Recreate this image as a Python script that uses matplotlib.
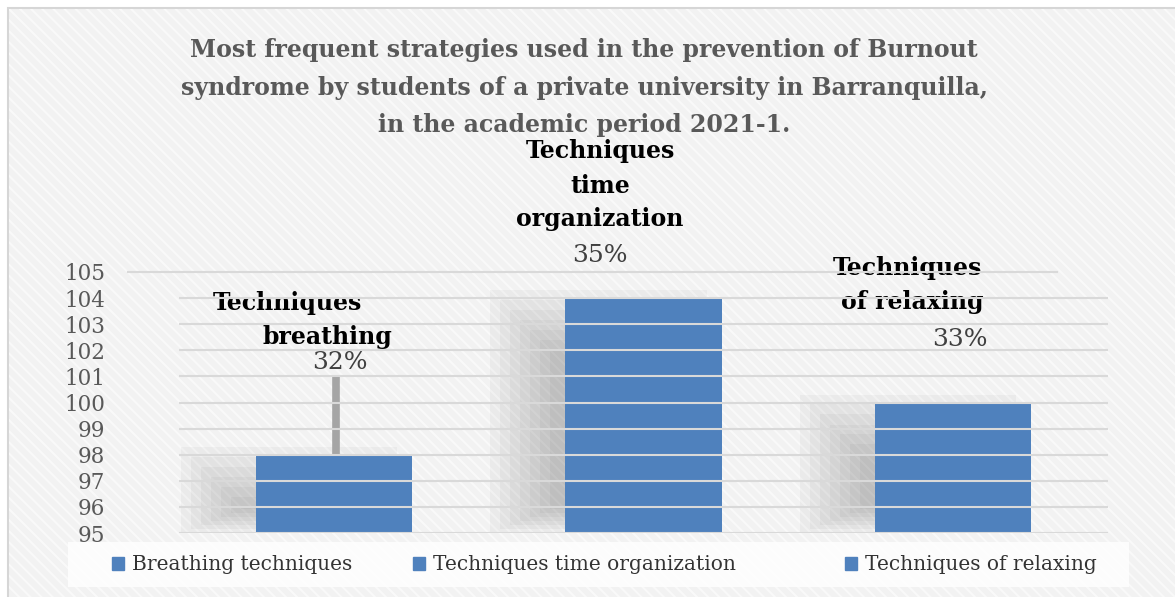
import matplotlib.pyplot as plt
from matplotlib.patches import Rectangle, Patch

categories = ["Breathing techniques", "Techniques time organization", "Techniques of relaxing"]
values = [98, 104, 100]
label_lines = [["Techniques", "breathing"],
               ["Techniques", "time", "organization"],
               ["Techniques", "of relaxing"]]
percents = ["32%", "35%", "33%"]
yticks = list(range(95, 106))
title_lines = ["Most frequent strategies used in the prevention of Burnout",
               "syndrome by students of a private university in Barranquilla,",
               "in the academic period 2021-1."]

plt.rcParams['font.family'] = ['DejaVu Serif']
plt.rcParams['hatch.linewidth'] = 1.5

W, H = 1175, 597
fig = plt.figure(figsize=(W / 100, H / 100), dpi=100)
fig.patch.set_facecolor('white')

# textured chart background
fig.patches.append(Rectangle((8 / W, -0.01), 1.01, 1 - 8 / H + 0.01, transform=fig.transFigure,
                             facecolor='#f2f2f2', edgecolor='#d6d6d6', lw=1.5, zorder=-10))
fig.patches.append(Rectangle((9 / W, -0.01), 1.01, 1 - 9 / H + 0.01, transform=fig.transFigure,
                             facecolor='none', edgecolor='#f9f9f9', hatch='\\\\\\', lw=0, zorder=-9))
# legend background
fig.patches.append(Rectangle((68 / W, 1 - 587 / H), (1129 - 68) / W, 45 / H, transform=fig.transFigure,
                             facecolor='white', alpha=0.8, lw=0, zorder=-8))

ax = fig.add_axes([179 / W, 1 - 533 / H, 929 / W, 261 / H])
ax.set_facecolor('none')
ax.set_xlim(-0.5, 2.5)
ax.set_ylim(95, 105)
sx = 3 / 929   # data units per pixel
sy = 10 / 261

x = list(range(len(values)))
bw = 0.504

# soft shadows behind bars (shifted left and down, blurred)
for xi, v in zip(x, values):
    l = xi - bw / 2 - 45 * sx
    r = xi + bw / 2 - 45 * sx
    t = v - 22 * sy
    for k in range(7):
        e = 30 - k * 10
        ax.add_patch(Rectangle((l - e * sx, 95 + (30 - e) * 0.4 * sy), (r - l) + 2 * e * sx,
                               t + e * sy - 95 - (30 - e) * 0.4 * sy,
                               facecolor='black', alpha=0.03, lw=0, zorder=1))

ax.bar(x, values, width=bw, color='#4f81bd', zorder=3)

# leader line of the first label
ax.vlines(x[0] + 2.5 * sx, values[0], 101, colors='#a5a5a5', lw=5.5, zorder=3.5)

# gridlines over the bars
for t in yticks:
    if t == yticks[-1]:
        ax.axhline(t, -51 / 929, 1 - 51 / 929, color='#d9d9d9', lw=1.5, zorder=5, clip_on=False)
    else:
        ax.axhline(t, 0, 1, color='#d9d9d9', lw=1.5, zorder=5)

ax.set_yticks(yticks)
ax.set_xticks([])
ax.tick_params(axis='y', length=0, pad=53, labelsize=15.5, labelcolor='#595959')
for s in ax.spines.values():
    s.set_visible(False)

# data labels (pixel offsets from bar top, baseline)
line_offsets = [[(-46, 145), (-6, 111)],
                [(-43.5, 140), (-43.5, 105), (-43.5, 72)],
                [(-46, 128), (-41, 94)]]
pct_offsets = [(6, 86), (-43.5, 36), (7, 57)]
for xi, v, lines, offs, pct, po in zip(x, values, label_lines, line_offsets, percents, pct_offsets):
    for txt, (dx, dy) in zip(lines, offs):
        ax.annotate(txt, xy=(xi, v), xytext=(dx, dy), textcoords='offset pixels',
                    ha='center', va='baseline', fontsize=17, fontweight='bold',
                    color='black', zorder=4, annotation_clip=False)
    ax.annotate(pct, xy=(xi, v), xytext=po, textcoords='offset pixels',
                ha='center', va='baseline', fontsize=18, color='#404040',
                zorder=4, annotation_clip=False)

# title
for i, line in enumerate(title_lines):
    fig.text(584 / W, 1 - (57 + 37.5 * i) / H, line, ha='center', va='baseline',
             fontsize=17, fontweight='bold', color='#595959')

# legend entries
for cat, xp in zip(categories, [112, 413, 845]):
    fig.legend(handles=[Patch(color='#4f81bd')], labels=[cat], loc='center left',
               bbox_to_anchor=(xp / W, 1 - 565 / H), frameon=False, fontsize=14.5,
               handlelength=0.6, handleheight=0.6, handletextpad=0.4,
               borderpad=0, borderaxespad=0, labelcolor='#333333')

fig.savefig('out.png', dpi=100)
